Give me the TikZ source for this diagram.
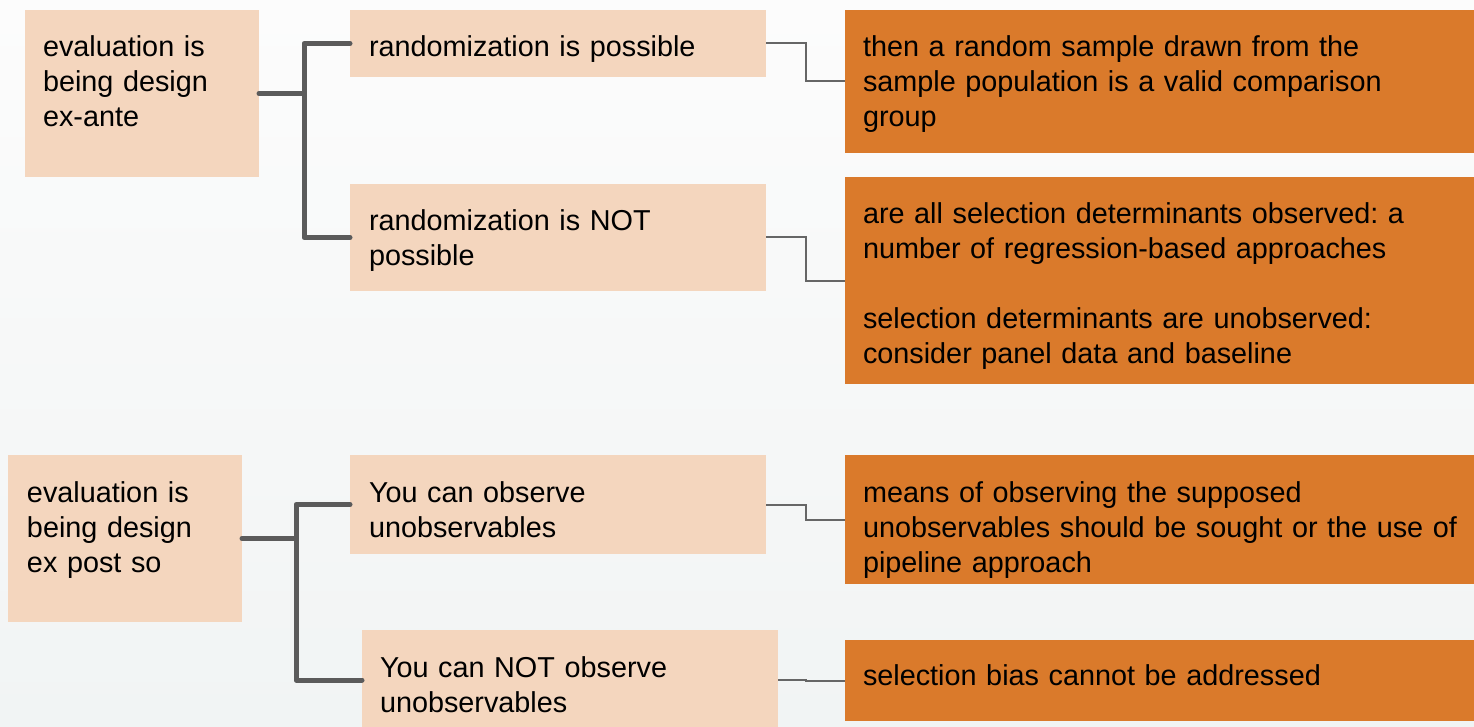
\documentclass[tikz,border=0pt]{standalone}
\usepackage{fontspec}
\setmainfont{Liberation Sans}
\frenchspacing
\definecolor{peach}{HTML}{F4D6BE}
\definecolor{burnt}{HTML}{DA7A2B}
\definecolor{trunkgray}{HTML}{5B5B5B}
\definecolor{twiggray}{HTML}{666666}
\definecolor{bgtop}{HTML}{FCFCFC}
\definecolor{bgbot}{HTML}{F1F4F4}
\tikzset{
  lightbox/.style={fill=peach, draw=none, anchor=north west, inner sep=0pt, outer sep=0pt},
  darkbox/.style={fill=burnt, draw=none, anchor=north west, inner sep=0pt, outer sep=0pt},
  boxtext/.style={anchor=base west, inner sep=0pt, outer sep=0pt, text width=#1, align=left,
    font=\fontsize{28.8}{35}\selectfont, text=black},
  trunk/.style={draw=trunkgray, line width=5pt, line join=round, line cap=round},
  twig/.style={draw=twiggray, line width=2pt, line join=miter},
}
\begin{document}
\begin{tikzpicture}[x=1pt, y=-1pt]
\useasboundingbox (0,0) rectangle (1474,727);
\fill[top color=bgtop, bottom color=bgbot] (0,0) rectangle (1474,727);

% ---- top group ----
\node[lightbox, minimum width=234pt, minimum height=167pt] (A) at (25,10) {};
\node[lightbox, minimum width=416pt, minimum height=67pt] (B1) at (350,10) {};
\node[lightbox, minimum width=416pt, minimum height=107pt] (B2) at (350,184) {};
\node[darkbox, minimum width=629pt, minimum height=143pt] (C1) at (845,10) {};
\node[darkbox, minimum width=629pt, minimum height=207pt] (C2) at (845,177) {};

% ---- bottom group ----
\node[lightbox, minimum width=234pt, minimum height=167pt] (D) at (8,455) {};
\node[lightbox, minimum width=416pt, minimum height=99pt] (E1) at (350,455) {};
\node[lightbox, minimum width=416pt, minimum height=100pt] (E2) at (362,630) {};
\node[darkbox, minimum width=629pt, minimum height=129pt] (F1) at (845,455) {};
\node[darkbox, minimum width=629pt, minimum height=81pt] (F2) at (845,640) {};

% ---- texts ----
\node[boxtext=220pt] (tA) at ([xshift=18pt,yshift=-47pt]A.north west) {evaluation is\\being design\\ex-ante};
\node[boxtext=400pt] (tB1) at ([xshift=19pt,yshift=-47pt]B1.north west) {randomization is possible};
\node[boxtext=400pt] (tB2) at ([xshift=19pt,yshift=-47pt]B2.north west) {randomization is NOT\\possible};
\node[boxtext=620pt] (tC1) at ([xshift=18pt,yshift=-47pt]C1.north west) {then a random sample drawn from the\\sample population is a valid comparison\\group};
\node[boxtext=620pt] (tC2) at ([xshift=18pt,yshift=-47pt]C2.north west) {are all selection determinants observed: a\\number of regression-based approaches\\[35pt]selection determinants are unobserved:\\consider panel data and baseline};
\node[boxtext=220pt] (tD) at ([xshift=19pt,yshift=-47pt]D.north west) {evaluation is\\being design\\ex post so};
\node[boxtext=400pt] (tE1) at ([xshift=19pt,yshift=-47pt]E1.north west) {You can observe\\unobservables};
\node[boxtext=400pt] (tE2) at ([xshift=18pt,yshift=-47pt]E2.north west) {You can NOT observe\\unobservables};
\node[boxtext=620pt] (tF1) at ([xshift=18pt,yshift=-47pt]F1.north west) {means of observing the supposed\\unobservables should be sought or the use of\\pipeline approach};
\node[boxtext=620pt] (tF2) at ([xshift=18pt,yshift=-45pt]F2.north west) {selection bias cannot be addressed};

% ---- connectors ----
\coordinate (jA) at ([xshift=45pt]A.east);
\draw[trunk] (A.east) -- (jA);
\draw[trunk] (B1.west) -| (jA) |- (B2.west);
\draw[twig] (B1.east) -- ++(40,0) |- (C1.west);
\draw[twig] (B2.east) -- ++(40,0) |- (C2.west);

\coordinate (jD) at ([xshift=54pt]D.east);
\draw[trunk] (D.east) -- (jD);
\draw[trunk] (E1.west) -| (jD) |- (E2.west);
\draw[twig] (E1.east) -- ++(40,0) |- (F1.west);
\draw[twig] (E2.east) -- ++(28,0) |- (F2.west);
\end{tikzpicture}
\end{document}
